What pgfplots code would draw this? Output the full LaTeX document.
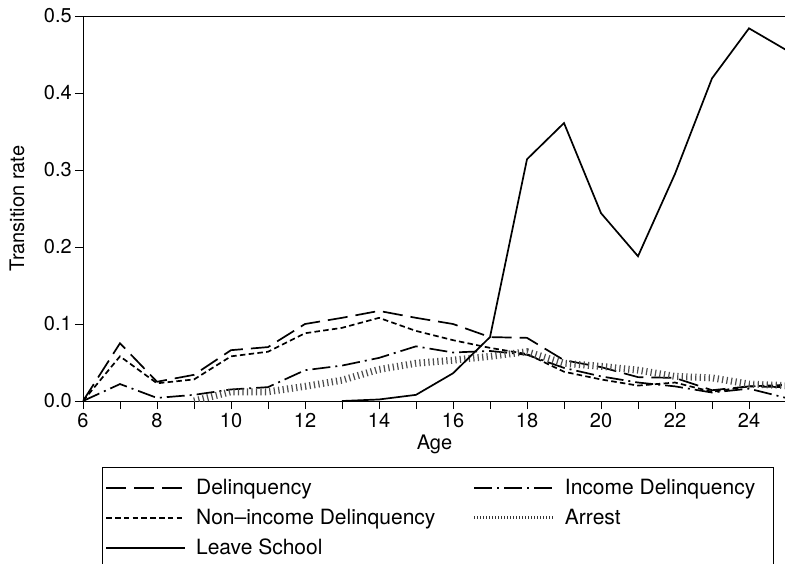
\documentclass[border=0pt]{standalone}
\usepackage{fontspec}
\setmainfont{TeX Gyre Heros}
\usepackage{pgfplots}
\pgfplotsset{compat=1.18}
\begin{document}
\begin{tikzpicture}
\begin{axis}[
  at={(83pt,162pt)}, anchor=south west,
  scale only axis, width=703pt, height=385pt,
  xmin=6, xmax=25, ymin=0, ymax=0.5,
  xtick={6,8,10,12,14,16,18,20,22,24},
  minor xtick={7,9,11,13,15,17,19,21,23,25},
  ytick={0,0.1,0.2,0.3,0.4,0.5},
  tick pos=left, tick align=outside,
  major tick length=8pt, minor tick length=8pt,
  tick style={black, line width=0.9pt},
  axis line style={black, line width=0.9pt},
  font=\fontsize{20}{24}\selectfont,
  tick label style={font=\fontsize{20}{24}\selectfont},
  xticklabel style={inner sep=4pt, /pgf/number format/assume math mode=true},
  yticklabel style={inner sep=3pt, /pgf/number format/.cd, fixed, fixed zerofill, precision=1, assume math mode=true},
  xlabel={Age}, ylabel={Transition rate},
  xlabel style={at={(axis description cs:0.5,-0.113)}, anchor=center},
  ylabel style={at={(axis description cs:-0.094,0.5)}, anchor=center},
  legend columns=2,
  legend cell align=left,
  legend style={at={(axis description cs:0.027,-0.1714)}, anchor=north west,
    draw=black, line width=0.9pt, inner xsep=3pt, inner ysep=9pt,
    font=\fontsize{21}{25}\selectfont,
    column sep=7pt, row sep=7pt,
    /tikz/every even column/.append style={column sep=34pt},
    nodes={inner sep=3pt}},
  legend image code/.code={\draw[#1, line width=1.7pt] (0pt,0pt) -- (79pt,0pt);},
  every axis plot/.append style={line width=1.7pt, black},
]
\addplot[dash pattern=on 20pt off 8pt] coordinates {
(6,0) (7,0.075) (8,0.025) (9,0.034) (10,0.066) (11,0.070) (12,0.100) (13,0.108)
(14,0.117) (15,0.108) (16,0.100) (17,0.083) (18,0.082) (19,0.053) (20,0.044)
(21,0.031) (22,0.030) (23,0.014) (24,0.019) (25,0.018)};
\addlegendentry{Delinquency}
\addplot[dash pattern=on 18pt off 5pt on 2pt off 5pt] coordinates {
(6,0) (7,0.022) (8,0.004) (9,0.008) (10,0.015) (11,0.018) (12,0.040) (13,0.046)
(14,0.056) (15,0.071) (16,0.063) (17,0.065) (18,0.060) (19,0.043) (20,0.032)
(21,0.024) (22,0.019) (23,0.011) (24,0.016) (25,0.004)};
\addlegendentry{Income Delinquency\hspace*{12pt}}
\addplot[dash pattern=on 5.5pt off 3.3pt] coordinates {
(6,0) (7,0.058) (8,0.023) (9,0.028) (10,0.058) (11,0.064) (12,0.088) (13,0.095)
(14,0.108) (15,0.091) (16,0.079) (17,0.069) (18,0.061) (19,0.038) (20,0.028)
(21,0.020) (22,0.024) (23,0.012) (24,0.019) (25,0.021)};
\addlegendentry{Non–income Delinquency}
\addplot[black!70, line width=7pt, dash pattern=on 1.2pt off 3.3pt,
  legend image code/.code={\draw[black!80, line width=3.5pt, dash pattern=on 1pt off 2pt] (0pt,0pt) -- (79pt,0pt);}] coordinates {
(9,0.0) (10,0.012) (11,0.012) (12,0.019) (13,0.027) (14,0.041) (15,0.049)
(16,0.053) (17,0.058) (18,0.064) (19,0.049) (20,0.045) (21,0.040) (22,0.032)
(23,0.030) (24,0.022) (25,0.020)};
\addlegendentry{Arrest}
\addplot[solid] coordinates {
(13,0.0) (14,0.002) (15,0.008) (16,0.036) (17,0.083) (18,0.314) (19,0.361)
(20,0.244) (21,0.188) (22,0.295) (23,0.419) (24,0.484) (25,0.456)};
\addlegendentry{Leave School}
\end{axis}
\pgfresetboundingbox
\useasboundingbox (0,0) rectangle (785pt,563pt);
\end{tikzpicture}
\end{document}
